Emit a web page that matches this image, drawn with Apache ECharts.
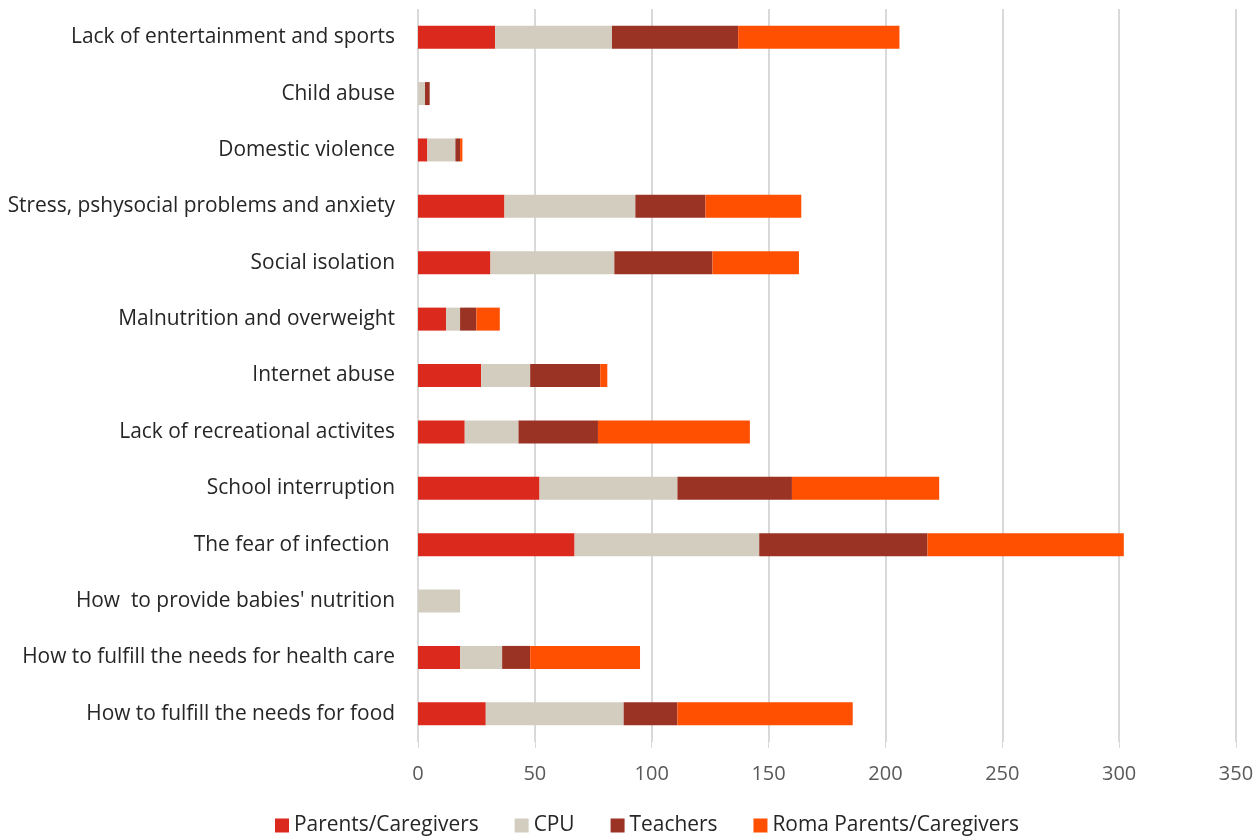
<!DOCTYPE html>
<html>
<head>
<meta charset="utf-8">
<script src="https://cdn.jsdelivr.net/npm/echarts@6/dist/echarts.min.js"></script>
<style>
  html, body { margin: 0; padding: 0; background: #fff; }
  #chart { width: 1259px; height: 839px; }
</style>
</head>
<body>
<div id="chart"></div>
<script>
// Perceived problems, listed top to bottom
const categories = [
  "Lack of entertainment and sports",
  "Child abuse",
  "Domestic violence",
  "Stress, pshysocial problems and anxiety",
  "Social isolation",
  "Malnutrition and overweight",
  "Internet abuse",
  "Lack of recreational activites",
  "School interruption",
  "The fear of infection ",
  "How  to provide babies' nutrition",
  "How to fulfill the needs for health care",
  "How to fulfill the needs for food"
];

const parentsCaregivers = [33, 0, 4, 37, 31, 12, 27, 20, 52, 67, 0, 18, 29];
const cpu               = [50, 3, 12, 56, 53, 6, 21, 23, 59, 79, 18, 18, 59];
const teachers          = [54, 2, 2, 30, 42, 7, 30, 34, 49, 72, 0, 12, 23];
const romaParents       = [69, 0, 1, 41, 37, 10, 3, 65, 63, 84, 0, 47, 75];

const xTicks = { min: 0, max: 350, interval: 50 };

const FONT = "'Open Sans', 'Noto Sans', sans-serif";

const seriesDefs = [
  { name: "Parents/Caregivers", data: parentsCaregivers, color: "#DB291E" },
  { name: "CPU", data: cpu, color: "#D3CDBF" },
  { name: "Teachers", data: teachers, color: "#9A3324" },
  { name: "Roma Parents/Caregivers", data: romaParents, color: "#FF4F00" }
];

const chart = echarts.init(document.getElementById("chart"), null, { renderer: "canvas" });

chart.setOption({
  animation: false,
  textStyle: { fontFamily: FONT },
  grid: { left: 418, right: 23, top: 9, bottom: 97, containLabel: false },
  xAxis: {
    type: "value",
    min: xTicks.min,
    max: xTicks.max,
    interval: xTicks.interval,
    axisLine: { show: false },
    axisTick: { show: true, length: 6, lineStyle: { color: "#D9D9D9", width: 1 } },
    axisLabel: { color: "#595959", fontSize: 20, fontFamily: FONT, margin: 22 },
    splitLine: { show: true, lineStyle: { color: "#D9D9D9", width: 2 } }
  },
  yAxis: {
    type: "category",
    data: categories,
    inverse: true,
    axisLine: { show: false },
    axisTick: { show: false },
    axisLabel: { color: "#262626", fontSize: 20.9, fontFamily: FONT, margin: 23 }
  },
  legend: {
    bottom: -2,
    left: 270,
    itemWidth: 14,
    itemHeight: 14,
    itemGap: 36,
    icon: "rect",
    textStyle: { color: "#262626", fontSize: 20.9, fontFamily: FONT },
    data: seriesDefs.map(s => s.name)
  },
  series: seriesDefs.map(s => ({
    name: s.name,
    type: "bar",
    stack: "total",
    barWidth: 23,
    data: s.data,
    itemStyle: { color: s.color },
    emphasis: { disabled: true }
  }))
});
</script>
</body>
</html>
